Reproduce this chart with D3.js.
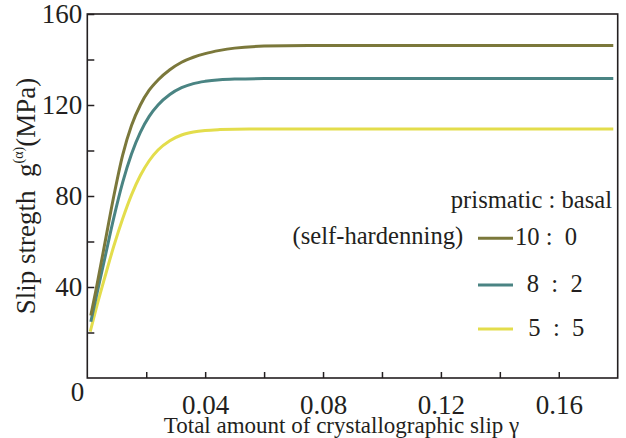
<!DOCTYPE html>
<html>
<head>
<meta charset="utf-8">
<script src="https://cdn.jsdelivr.net/npm/d3@7"></script>
<style>
  html, body { margin: 0; padding: 0; background: #fff; }
  svg { display: block; }
  svg text { font-family: "Liberation Serif", "Times New Roman", serif !important; fill: #231f20; }
</style>
</head>
<body>
<svg id="chart" width="626" height="438"></svg>
<script>
// Slip strength vs accumulated slip for three prismatic:basal hardening ratios
const seriesNames = ["10 : 0", "8 : 2", "5 : 5"];
const seriesLabels = ["10 :  0", "8  :  2", "5  :  5"];
const seriesColors = ["#7b783b", "#4a8483", "#e3dd4c"];

const gamma1010 = [0.0012, 0.003, 0.006, 0.009, 0.012, 0.015, 0.018, 0.021, 0.024, 0.028, 0.032, 0.036, 0.040, 0.045, 0.050, 0.060, 0.075, 0.1785];
const strength1010 = [27.5, 39, 59.5, 80, 98, 111, 120, 126.5, 131, 135.5, 138.8, 141, 142.6, 144, 145, 145.9, 146.2, 146.2];

const gamma82 = [0.0012, 0.003, 0.006, 0.009, 0.012, 0.015, 0.018, 0.021, 0.024, 0.028, 0.032, 0.036, 0.040, 0.045, 0.050, 0.060, 0.1785];
const strength82 = [24.7, 35.5, 53, 70.5, 86, 98.5, 108, 115, 120, 124.6, 127.6, 129.4, 130.4, 131.1, 131.4, 131.6, 131.6];

const gamma55 = [0.001, 0.003, 0.006, 0.009, 0.012, 0.015, 0.018, 0.021, 0.024, 0.028, 0.032, 0.036, 0.040, 0.045, 0.055, 0.1785];
const strength55 = [20.4, 30.5, 44.5, 58, 70, 80.5, 89, 95.5, 100.2, 104.3, 106.8, 108.1, 108.8, 109.2, 109.5, 109.5];

const yTicks = [20, 40, 60, 80, 100, 120, 140, 160];
const yTickLabels = [40, 80, 120, 160];
const xTicks = [0.02, 0.04, 0.06, 0.08, 0.10, 0.12, 0.14, 0.16];
const xTickLabels = ["0.04", "0.08", "0.12", "0.16"];

const series = [
  { name: seriesNames[0], label: seriesLabels[0], color: seriesColors[0], xs: gamma1010, ys: strength1010 },
  { name: seriesNames[1], label: seriesLabels[1], color: seriesColors[1], xs: gamma82, ys: strength82 },
  { name: seriesNames[2], label: seriesLabels[2], color: seriesColors[2], xs: gamma55, ys: strength55 }
];

const svg = d3.select("#chart");
const plotLeft = 87.3, plotRight = 617.7, plotTop = 14, plotBottom = 378;

const x = d3.scaleLinear().domain([0, 0.18]).range([plotLeft, plotRight]);
const y = d3.scaleLinear().domain([0, 160]).range([plotBottom, plotTop]);

// curves
const line = d3.line()
  .x(d => x(d[0]))
  .y(d => y(d[1]))
  .curve(d3.curveMonotoneX);

svg.append("g").selectAll("path")
  .data(series.slice().reverse())
  .join("path")
  .attr("d", s => line(s.xs.map((v, i) => [v, s.ys[i]])))
  .attr("fill", "none")
  .attr("stroke", s => s.color)
  .attr("stroke-width", 3);

// left axis: inward ticks, labels every 40
const yAxis = svg.append("g")
  .attr("transform", `translate(${plotLeft},0)`)
  .call(d3.axisLeft(y)
    .tickValues(yTicks)
    .tickSize(-7)
    .tickPadding(5)
    .tickFormat(d => yTickLabels.includes(d) ? d : ""));
yAxis.select(".domain").remove();
yAxis.selectAll(".tick line").attr("stroke", "#231f20").attr("stroke-width", 1.5);
yAxis.selectAll(".tick text").attr("font-size", 27).attr("fill", "#231f20");

// bottom axis: inward ticks, labels every 0.04
const xAxis = svg.append("g")
  .attr("transform", `translate(0,${plotBottom})`)
  .call(d3.axisBottom(x)
    .tickValues(xTicks)
    .tickSize(-6)
    .tickFormat(d => { const s = d3.format(".2f")(d); return xTickLabels.includes(s) ? s : ""; }));
xAxis.select(".domain").remove();
xAxis.selectAll(".tick line").attr("stroke", "#231f20").attr("stroke-width", 1.5);
xAxis.selectAll(".tick text")
  .attr("font-size", 27).attr("fill", "#231f20")
  .attr("y", 36).attr("dy", 0);

// shared origin label
svg.append("text")
  .attr("x", 77.5).attr("y", 401)
  .attr("text-anchor", "middle")
  .attr("font-size", 27)
  .text("0");

// frame
svg.append("rect")
  .attr("x", plotLeft).attr("y", plotTop)
  .attr("width", plotRight - plotLeft).attr("height", plotBottom - plotTop)
  .attr("fill", "none")
  .attr("stroke", "#231f20")
  .attr("stroke-width", 1.6);

// axis titles
svg.append("text")
  .attr("x", 341.5).attr("y", 433)
  .attr("text-anchor", "middle")
  .attr("font-size", 23)
  .text("Total amount of crystallographic slip \u03b3");

const yTitle = svg.append("text")
  .attr("transform", "translate(35,196) rotate(-90)")
  .attr("text-anchor", "middle")
  .attr("font-size", 27)
  .style("white-space", "pre");
yTitle.append("tspan").text("Slip stregth  g");
yTitle.append("tspan").attr("font-size", 14).attr("dy", -12).text("(\u03b1)");
yTitle.append("tspan").attr("dy", 12).text("(MPa)");

// legend
svg.append("text")
  .attr("x", 612).attr("y", 208)
  .attr("text-anchor", "end")
  .attr("font-size", 24.6)
  .text("prismatic : basal");

svg.append("text")
  .attr("x", 292.5).attr("y", 244)
  .attr("font-size", 24.6)
  .text("(self-hardenning)");

const legendRowY = [238.3, 285, 329];
const legendTextX = [515, 526.7, 528.3];
const legend = svg.append("g").selectAll("g")
  .data(series)
  .join("g");
legend.append("line")
  .attr("x1", 478).attr("x2", 513)
  .attr("y1", (d, i) => legendRowY[i]).attr("y2", (d, i) => legendRowY[i])
  .attr("stroke", d => d.color)
  .attr("stroke-width", 3);
legend.append("text")
  .attr("x", (d, i) => legendTextX[i])
  .attr("y", (d, i) => legendRowY[i] + 6.5)
  .attr("font-size", 24.6)
  .style("white-space", "pre")
  .text(d => d.label);
</script>
</body>
</html>
